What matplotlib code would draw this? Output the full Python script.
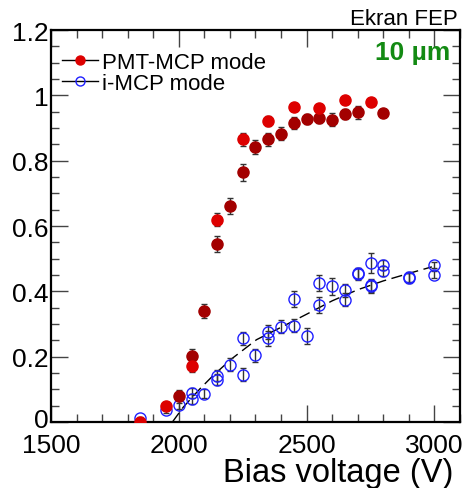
import numpy as np
import matplotlib
matplotlib.use('Agg')
import matplotlib.pyplot as plt
import matplotlib.transforms as mtransforms
from matplotlib.ticker import MultipleLocator

plt.rcParams['font.family'] = ['Liberation Sans', 'DejaVu Sans']

# PMT-MCP mode, first set (bright red)
pmt_a_v = [1850, 1950, 2050, 2150, 2250, 2350, 2450, 2550, 2650, 2750]
pmt_a_eff = [0.0, 0.048, 0.17, 0.619, 0.866, 0.922, 0.965, 0.962, 0.986, 0.98]
pmt_a_err = [0.005, 0.012, 0.018, 0.02, 0.02, 0.015, 0.01, 0.01, 0.008, 0.008]

# PMT-MCP mode, second set (dark red)
pmt_b_v = [2000, 2050, 2100, 2150, 2200, 2250, 2300, 2350, 2400,
           2450, 2500, 2550, 2600, 2650, 2700, 2800]
pmt_b_eff = [0.079, 0.203, 0.339, 0.544, 0.662, 0.764, 0.843, 0.866, 0.882,
             0.916, 0.927, 0.93, 0.925, 0.944, 0.948, 0.946]
pmt_b_err = [0.02, 0.02, 0.022, 0.025, 0.025, 0.025, 0.022, 0.02, 0.02,
             0.018, 0.015, 0.015, 0.02, 0.015, 0.02, 0.012]

# i-MCP mode (open blue)
imcp_v = [1850, 1950, 2000, 2050, 2050, 2100, 2150, 2150, 2200, 2250, 2250,
          2300, 2350, 2350, 2400, 2450, 2450, 2500, 2550, 2550, 2600, 2650,
          2650, 2700, 2700, 2750, 2750, 2750, 2800, 2800, 2900, 2900, 3000, 3000]
imcp_eff = [0.011, 0.037, 0.052, 0.088, 0.07, 0.087, 0.142, 0.13, 0.175, 0.256,
            0.145, 0.205, 0.276, 0.256, 0.292, 0.377, 0.295, 0.263, 0.425, 0.359,
            0.415, 0.404, 0.374, 0.455, 0.452, 0.486, 0.416, 0.418, 0.481, 0.463,
            0.445, 0.442, 0.481, 0.451]
imcp_err = [0.005, 0.01, 0.012, 0.015, 0.015, 0.015, 0.018, 0.018, 0.02, 0.02,
            0.02, 0.02, 0.022, 0.022, 0.02, 0.025, 0.02, 0.025, 0.025, 0.025,
            0.025, 0.02, 0.02, 0.018, 0.018, 0.03, 0.02, 0.02, 0.015, 0.015,
            0.015, 0.015, 0.01, 0.01]

# fitted curve
fit_v = [1975, 2017, 2082, 2134, 2206, 2304, 2400, 2500, 2600, 2700, 2800, 2900, 2990]
fit_eff = [0.0, 0.045, 0.101, 0.142, 0.193, 0.252, 0.29, 0.33, 0.371, 0.405,
           0.432, 0.455, 0.475]

fig = plt.figure(figsize=(4.67, 4.89), dpi=100)
ax = fig.add_axes([0.1092, 0.135, 0.8758, 0.8014])

ax.plot(fit_v, fit_eff, color='black', lw=1, dashes=(8, 4))

ax.errorbar(imcp_v, imcp_eff, yerr=imcp_err, fmt='o', mfc='none', mec='#1f1fff',
            mew=1.0, ms=8, ecolor='#333333', elinewidth=1, capsize=2.5,
            capthick=1, zorder=3)
ax.errorbar(pmt_b_v, pmt_b_eff, yerr=pmt_b_err, fmt='o', color='#a30000',
            ms=8, ecolor='#333333', elinewidth=1, capsize=2.5, capthick=1,
            zorder=4)
ax.errorbar(pmt_a_v, pmt_a_eff, yerr=pmt_a_err, fmt='o', color='#dd0000',
            ms=8, ecolor='#333333', elinewidth=1, capsize=2.5, capthick=1,
            zorder=5)

# legend handles (ROOT style: line through marker)
h1, = ax.plot([], [], '-o', color='black', mfc='#dd0000', mec='#dd0000', ms=6.5, lw=1)
h2, = ax.plot([], [], '-o', color='black', mfc='none', mec='#1f1fff', ms=6.5, lw=1)
ax.legend([h1, h2], ['PMT-MCP mode', 'i-MCP mode'], loc='upper left',
          bbox_to_anchor=(-0.005, 0.978), frameon=False, fontsize=16,
          handlelength=1.6, handletextpad=0.2, labelspacing=0.0,
          borderaxespad=0.2)

ax.set_xlim(1500, 3100)
ax.set_ylim(0, 1.2)
ax.xaxis.set_major_locator(MultipleLocator(500))
ax.xaxis.set_minor_locator(MultipleLocator(100))
ax.yaxis.set_major_locator(MultipleLocator(0.2))
ax.yaxis.set_minor_locator(MultipleLocator(0.05))
ax.set_yticks([0, 0.2, 0.4, 0.6, 0.8, 1.0, 1.2])
ax.set_yticklabels(['0', '0.2', '0.4', '0.6', '0.8', '1', '1.2'])
ax.tick_params(which='both', direction='in', top=True, right=True,
               labelsize=19, width=1, color='#444444')
ax.tick_params(which='major', length=12)
ax.tick_params(which='minor', length=6)
ax.tick_params(axis='y', pad=2)
ax.tick_params(axis='x', pad=8)
for s in ax.spines.values():
    s.set_linewidth(1.6)

# nudge the "0" label up a little so it clears "1500"
zero_lbl = ax.get_yticklabels()[0]
zero_lbl.set_transform(zero_lbl.get_transform() +
                       mtransforms.ScaledTranslation(0, 3 / 72, fig.dpi_scale_trans))

ax.set_xlabel('Bias voltage (V)', fontsize=23.5, loc='right', labelpad=0)
ax.xaxis.label.set_x(0.985)

fig.text(0.98, 0.949, 'Ekran FEP', ha='right', va='baseline', fontsize=16)
ax.text(0.975, 0.975, '10 µm', transform=ax.transAxes, ha='right', va='top',
        fontsize=19, fontweight='bold', color='#138a13')

fig.savefig('out.png', dpi=100)
plt.close('all')
